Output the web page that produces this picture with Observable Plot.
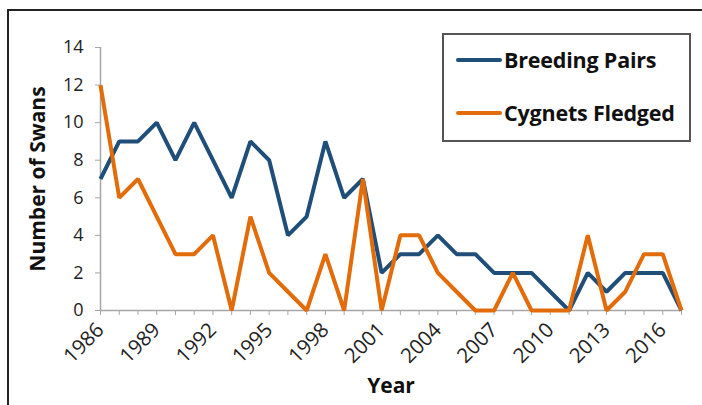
<!DOCTYPE html>
<html>
<head>
<meta charset="utf-8">
<script src="https://cdn.jsdelivr.net/npm/d3@7"></script>
<script src="https://cdn.jsdelivr.net/npm/@observablehq/plot@0.6"></script>
<style>
  html, body { margin: 0; padding: 0; background: #fff; }
  #wrap { position: relative; width: 702px; height: 405px; overflow: hidden; font-family: "Open Sans", sans-serif; }
  #frame { position: absolute; left: 7px; top: 9px; width: 720px; height: 420px; border-left: 2px solid #222; border-top: 2px solid #222; }
  #chart { position: absolute; left: 0; top: 0; }
  #legend { position: absolute; left: 442px; top: 33px; width: 245px; height: 105px; border: 2px solid #555; background: #fff; }
  .entry { position: absolute; left: 12px; display: flex; align-items: center; font-weight: 700; font-size: 21.5px; color: #111; white-space: nowrap; letter-spacing: -0.2px; }
  .swatch { width: 46px; height: 4px; margin-right: 2px; border-radius: 2px; }
  svg [aria-label="y-axis label"] text, svg [aria-label="x-axis label"] text { font-weight: 700; font-size: 21px; fill: #111; }
  svg [aria-label="y-axis tick label"] text { font-size: 18px; fill: #222; }
  svg [aria-label="x-axis tick label"] text { font-size: 20.5px !important; fill: #222; }
</style>
</head>
<body>
<div id="wrap">
  <div id="frame"></div>
  <div id="chart"></div>
  <div id="legend"></div>
</div>
<script>
const years = d3.range(1986, 2018);
const breedingPairs = [7, 9, 9, 10, 8, 10, 8, 6, 9, 8, 4, 5, 9, 6, 7, 2, 3, 3, 4, 3, 3, 2, 2, 2, 1, 0, 2, 1, 2, 2, 2, 0];
const cygnetsFledged = [12, 6, 7, 5, 3, 3, 4, 0, 5, 2, 1, 0, 3, 0, 7, 0, 4, 4, 2, 1, 0, 0, 2, 0, 0, 0, 4, 0, 1, 3, 3, 0];
const seriesNames = ["Breeding Pairs", "Cygnets Fledged"];
const seriesColors = ["#1f4e79", "#e36c0a"];
const yTicks = [0, 2, 4, 6, 8, 10, 12, 14];
const xLabelTicks = [1986, 1989, 1992, 1995, 1998, 2001, 2004, 2007, 2010, 2013, 2016];

const rows = [];
years.forEach((yr, i) => {
  rows.push({year: yr, value: breedingPairs[i], series: seriesNames[0]});
  rows.push({year: yr, value: cygnetsFledged[i], series: seriesNames[1]});
});

const chart = Plot.plot({
  width: 702,
  height: 405,
  marginLeft: 100,
  marginRight: 21,
  marginTop: 47,
  marginBottom: 95,
  style: {fontFamily: "'Open Sans', sans-serif", background: "transparent", overflow: "visible"},
  x: {domain: [1986, 2017]},
  y: {domain: [0, 14]},
  color: {domain: seriesNames, range: seriesColors},
  marks: [
    Plot.ruleY([0], {stroke: "#a6a6a6", strokeWidth: 1.5}),
    Plot.ruleX([1986], {stroke: "#a6a6a6", strokeWidth: 1.5}),
    Plot.axisY({ticks: yTicks, tickSize: 5, tickPadding: 12, stroke: "#a6a6a6", label: "Number of Swans", labelArrow: "none", labelAnchor: "center", labelOffset: 70, tickFormat: d => String(d)}),
    Plot.axisX({ticks: years, tickSize: 5, stroke: "#a6a6a6", text: null, label: null}),
    Plot.axisX({ticks: xLabelTicks, tickSize: 0, tickPadding: 16, dx: 0, fontSize: 20.5, tickRotate: -45, tickFormat: d => String(d), label: null}),
    Plot.axisX({ticks: [], tickSize: 0, label: "Year", labelArrow: "none", labelAnchor: "center", labelOffset: 82}),
    Plot.line(rows, {x: "year", y: "value", stroke: "series", strokeWidth: 4, strokeLinejoin: "miter", strokeLinecap: "butt"})
  ]
});
document.getElementById("chart").appendChild(chart);

const legend = document.getElementById("legend");
seriesNames.forEach((name, i) => {
  const e = document.createElement("div");
  e.className = "entry";
  e.style.top = (i === 0 ? 10 : 63) + "px";
  const sw = document.createElement("span");
  sw.className = "swatch";
  sw.style.background = seriesColors[i];
  const t = document.createElement("span");
  t.textContent = name;
  e.appendChild(sw);
  e.appendChild(t);
  legend.appendChild(e);
});
</script>
</body>
</html>
